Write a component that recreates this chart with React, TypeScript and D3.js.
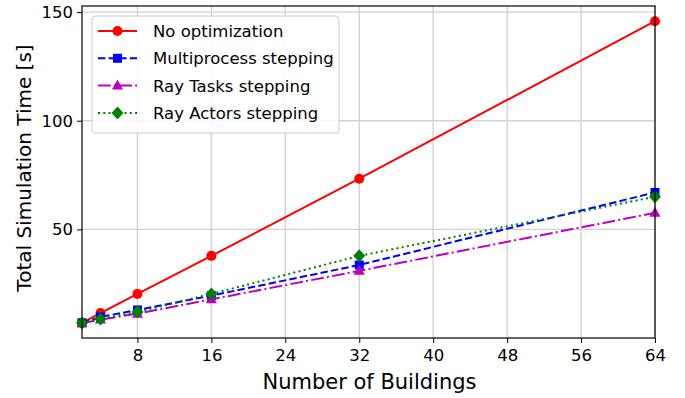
import React, { useRef, useEffect } from "react";
import * as d3 from "d3";

const buildings = [2, 4, 8, 16, 32, 64];
const noOpt = [7.0, 11.5, 20.3, 37.8, 73.3, 145.8];
const multiprocess = [7.0, 9.7, 12.9, 19.5, 33.6, 67.0];
const rayTasks = [6.8, 8.5, 11.2, 17.8, 30.9, 57.6];
const rayActors = [6.9, 8.8, 12.0, 20.3, 37.8, 65.0];
const xTicks = [8, 16, 24, 32, 40, 48, 56, 64];
const yTicks = [50, 100, 150];
const yMinor = [25, 75, 125];

const series = [
  { name: "No optimization", values: noOpt, color: "#ff0000", dash: "", marker: "circle" },
  { name: "Multiprocess stepping", values: multiprocess, color: "#0000ff", dash: "7.4,3.2", marker: "square" },
  { name: "Ray Tasks stepping", values: rayTasks, color: "#bf00bf", dash: "12.8,3.2,2,3.2", marker: "triangle" },
  { name: "Ray Actors stepping", values: rayActors, color: "#008000", dash: "2,3.3", marker: "diamond" },
];

const width = 685;
const height = 398;
const margin = { top: 6, right: 30, bottom: 60, left: 82 };
const font = "DejaVu Sans, sans-serif";

function drawMarker(g: any, kind: string, x: number, y: number, color: string) {
  if (kind === "circle") {
    g.append("circle").attr("cx", x).attr("cy", y).attr("r", 5).attr("fill", color);
  } else if (kind === "square") {
    g.append("rect").attr("x", x - 4.5).attr("y", y - 4.5).attr("width", 9).attr("height", 9).attr("fill", color);
  } else if (kind === "triangle") {
    g.append("path").attr("d", `M${x},${y - 6}L${x + 5.5},${y + 4}L${x - 5.5},${y + 4}Z`).attr("fill", color);
  } else {
    g.append("path").attr("d", `M${x},${y - 6.5}L${x + 6},${y}L${x},${y + 6.5}L${x - 6},${y}Z`).attr("fill", color);
  }
}

function Chart() {
  const svgRef = useRef<SVGSVGElement>(null);

  useEffect(() => {
    const svg = d3.select(svgRef.current);
    svg.selectAll("*").remove();

    const innerW = width - margin.left - margin.right;
    const innerH = height - margin.top - margin.bottom;

    const x = d3.scaleLinear().domain([2, 64]).range([0, innerW]);
    const y = d3.scaleLinear().domain([0, 152.8]).range([innerH, 0]);

    const g = svg.append("g").attr("transform", `translate(${margin.left},${margin.top})`);

    // grid
    g.selectAll(".gx").data(xTicks).enter().append("line")
      .attr("x1", d => x(d)).attr("x2", d => x(d)).attr("y1", 0).attr("y2", innerH)
      .attr("stroke", "#d3d3d3").attr("stroke-width", 1.4);
    g.selectAll(".gy").data(yTicks).enter().append("line")
      .attr("y1", d => y(d)).attr("y2", d => y(d)).attr("x1", 0).attr("x2", innerW)
      .attr("stroke", "#d3d3d3").attr("stroke-width", 1.4);

    // lines
    series.forEach(s => {
      const pts = buildings.map((b, i) => [x(b), y(s.values[i])] as [number, number]);
      g.append("path")
        .attr("d", d3.line()(pts))
        .attr("fill", "none")
        .attr("stroke", s.color)
        .attr("stroke-width", 2)
        .attr("stroke-dasharray", s.dash);
      pts.forEach(p => drawMarker(g, s.marker, p[0], p[1], s.color));
    });

    // frame
    g.append("rect").attr("x", 0).attr("y", 0).attr("width", innerW).attr("height", innerH)
      .attr("fill", "none").attr("stroke", "#000").attr("stroke-width", 1.2);

    // x axis
    const xAxis = g.append("g").attr("transform", `translate(0,${innerH})`);
    xAxis.call(d3.axisBottom(x).tickValues(d3.range(3, 64)).tickSize(2.5).tickFormat(() => ""));
    xAxis.call(d3.axisBottom(x).tickValues(xTicks).tickSize(5).tickPadding(6).tickFormat(d3.format("d")) as any);
    xAxis.selectAll(".domain").remove();
    xAxis.selectAll("text").attr("font-family", font).attr("font-size", 16.5).attr("fill", "#000");

    // y axis
    const yAxis = g.append("g");
    yAxis.call(d3.axisLeft(y).tickValues(yMinor).tickSize(2.5).tickFormat(() => ""));
    yAxis.call(d3.axisLeft(y).tickValues(yTicks).tickSize(5).tickPadding(4).tickFormat(d3.format("d")) as any);
    yAxis.selectAll(".domain").remove();
    yAxis.selectAll("text").attr("font-family", font).attr("font-size", 16.5).attr("fill", "#000");

    // labels
    svg.append("text")
      .attr("x", margin.left + innerW / 2 + 1).attr("y", 389)
      .attr("text-anchor", "middle").attr("font-family", font).attr("font-size", 21)
      .text("Number of Buildings");
    svg.append("text")
      .attr("transform", `translate(31,168) rotate(-90)`)
      .attr("text-anchor", "middle").attr("font-family", font).attr("font-size", 20)
      .text("Total Simulation Time [s]");

    // legend
    const leg = g.append("g").attr("transform", "translate(10,10)");
    leg.append("rect").attr("x", 0).attr("y", 0).attr("width", 247).attr("height", 117).attr("rx", 3)
      .attr("fill", "white").attr("fill-opacity", 0.85).attr("stroke", "#cccccc");
    series.forEach((s, i) => {
      const cy = 15 + i * 27.3;
      leg.append("line").attr("x1", 6).attr("x2", 45).attr("y1", cy).attr("y2", cy)
        .attr("stroke", s.color).attr("stroke-width", 2).attr("stroke-dasharray", s.dash);
      drawMarker(leg, s.marker, 25.5, cy, s.color);
      leg.append("text").attr("x", 61).attr("y", cy + 6)
        .attr("font-family", font).attr("font-size", 16.5).text(s.name);
    });
  }, []);

  return <svg ref={svgRef} width={width} height={height}></svg>;
}

export default function App() {
  return (
    <div style={{ position: "absolute", left: 0, top: 0, background: "white" }}>
      <Chart />
    </div>
  );
}
